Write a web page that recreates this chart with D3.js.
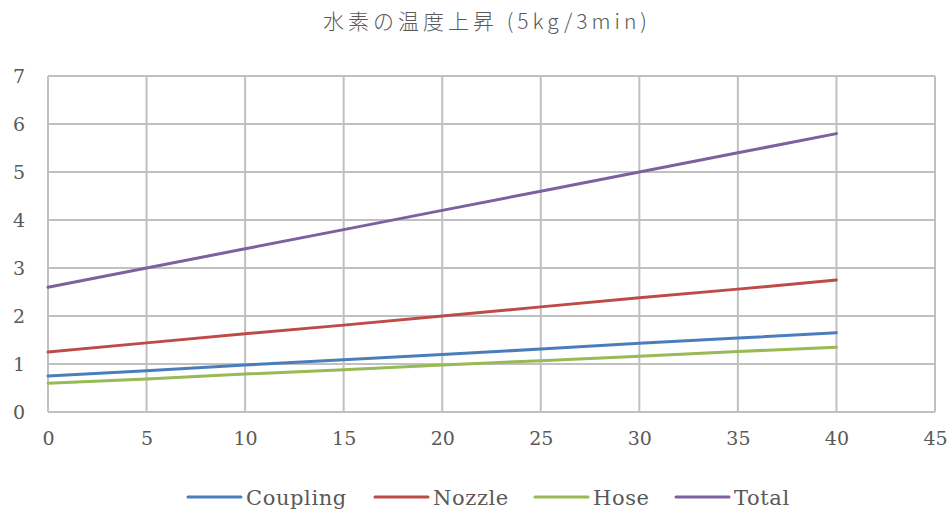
<!DOCTYPE html>
<html><head><meta charset="utf-8">
<script src="https://cdn.jsdelivr.net/npm/d3@7"></script>
<style>html,body{margin:0;padding:0;background:#fff;}
.serif{font-family:"DejaVu Serif","Liberation Serif",serif;}
</style>
</head><body>
<svg id="c" width="951" height="509"></svg>
<script>
const title = "水素の温度上昇 (5kg/3min)";
const xValues = [0, 5, 10, 15, 20, 25, 30, 35, 40];
const seriesNames = ["Coupling", "Nozzle", "Hose", "Total"];
const coupling = [0.75, 0.86, 0.98, 1.09, 1.20, 1.31, 1.43, 1.54, 1.65];
const nozzle   = [1.25, 1.44, 1.63, 1.81, 2.00, 2.19, 2.38, 2.56, 2.75];
const hose     = [0.60, 0.69, 0.79, 0.88, 0.98, 1.07, 1.16, 1.26, 1.35];
const total    = [2.60, 3.00, 3.40, 3.80, 4.20, 4.60, 5.00, 5.40, 5.80];
const xTicks = [0, 5, 10, 15, 20, 25, 30, 35, 40, 45];
const yTicks = [0, 1, 2, 3, 4, 5, 6, 7];
const colors = ["#4a7ebb", "#be4b48", "#98b954", "#7d60a0"];

const seriesData = [coupling, nozzle, hose, total];
const svg = d3.select("#c");
const L = 48, R = 935, T = 76, B = 412;
const x = d3.scaleLinear().domain([0, 45]).range([L, R]);
const y = d3.scaleLinear().domain([0, 7]).range([B, T]);

// grid
const grid = svg.append("g");
grid.selectAll("line.h").data(yTicks).enter().append("line")
  .attr("x1", L).attr("x2", R).attr("y1", d => y(d)).attr("y2", d => y(d))
  .attr("stroke", "#c0c0c0").attr("stroke-width", 2);
grid.selectAll("line.v").data(xTicks).enter().append("line")
  .attr("y1", T).attr("y2", B).attr("x1", d => x(d)).attr("x2", d => x(d))
  .attr("stroke", "#c0c0c0").attr("stroke-width", 2);

// axes labels
const xAxis = d3.axisBottom(x).tickValues(xTicks).tickFormat(d3.format("d")).tickSize(0).tickPadding(20);
svg.append("g").attr("transform", `translate(0,${B})`).call(xAxis)
  .attr("font-family", null).attr("font-size", null).attr("class", "serif")
  .call(g => g.select(".domain").remove())
  .selectAll("text").style("font-size", "19px").attr("fill", "#595959");
const yAxis = d3.axisLeft(y).tickValues(yTicks).tickFormat(d3.format("d")).tickSize(0).tickPadding(23);
svg.append("g").attr("transform", `translate(${L},0)`).call(yAxis)
  .attr("font-family", null).attr("font-size", null).attr("class", "serif")
  .call(g => g.select(".domain").remove())
  .selectAll("text").style("font-size", "19px").attr("fill", "#595959");

// lines
const line = d3.line().x((d, i) => x(xValues[i])).y(d => y(d));
seriesData.forEach((s, i) => {
  svg.append("path").datum(s).attr("d", line).attr("fill", "none")
    .attr("stroke", colors[i]).attr("stroke-width", 3).attr("stroke-linecap", "round");
});

// title
svg.append("text").attr("x", 487).attr("y", 29).attr("text-anchor", "middle")
  .style("font-family", "'Noto Sans CJK JP',sans-serif").style("font-size", "21px")
  .style("letter-spacing", "4px").style("font-weight", 300)
  .attr("fill", "#595959").text(title);

// legend
const legX = [188, 375, 535, 676];
const legY = 497;
seriesNames.forEach((n, i) => {
  svg.append("line").attr("x1", legX[i]).attr("x2", legX[i] + 53)
    .attr("y1", legY).attr("y2", legY).attr("stroke", colors[i]).attr("stroke-width", 3)
    .attr("stroke-linecap", "round");
  svg.append("text").attr("x", legX[i] + 58).attr("y", legY + 8).attr("class", "serif")
    .style("font-size", "21px").style("letter-spacing", "0.6px").attr("fill", "#595959").text(n);
});
</script>
</body></html>
